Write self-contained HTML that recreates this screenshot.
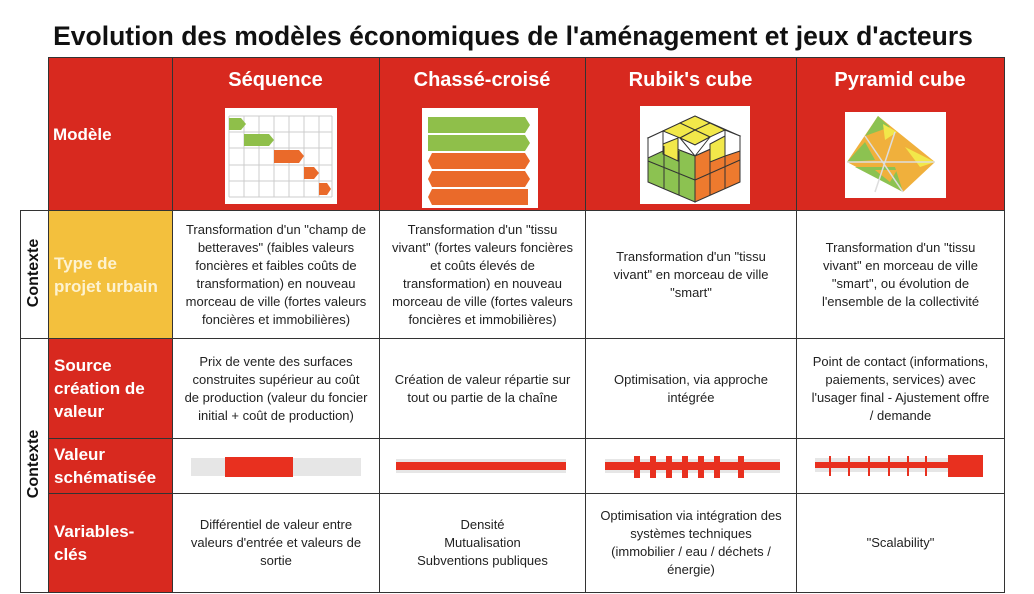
<!DOCTYPE html>
<html><head><meta charset="utf-8"><style>
*{margin:0;padding:0;box-sizing:border-box}
body{width:1034px;height:594px;background:#fff;position:relative;overflow:hidden;font-family:"Liberation Sans",Arial,sans-serif}
.a{position:absolute}
.t{position:absolute;top:21px;left:0;width:1026px;text-align:center;font-weight:bold;font-size:26.5px;color:#111}
.c{position:absolute;display:flex;align-items:center;justify-content:center;text-align:center;font-size:13px;line-height:18px;color:#222;border:1px solid #333;white-space:nowrap}
.r{background:#d8291f}
.lab{position:absolute;color:#fff;font-weight:bold;font-size:17px;line-height:23px;display:flex;align-items:center;padding-left:5px;border:1px solid #333}
.h{position:absolute;color:#fff;font-weight:bold;font-size:20px;text-align:center;top:69px}
.v{position:absolute;font-weight:bold;font-size:16px;transform:rotate(-90deg);transform-origin:center;white-space:nowrap;color:#111}
</style></head><body>
<div class="t">Evolution des modèles économiques de l'aménagement et jeux d'acteurs</div>
<div class="a r" style="left:48px;top:57px;width:957px;height:154px;border:1px solid #333"></div>
<div class="a" style="left:172px;top:57px;width:1px;height:154px;background:#333"></div>
<div class="a" style="left:379px;top:57px;width:1px;height:154px;background:#333"></div>
<div class="a" style="left:585px;top:57px;width:1px;height:154px;background:#333"></div>
<div class="a" style="left:796px;top:57px;width:1px;height:154px;background:#333"></div>
<div class="lab" style="left:48px;top:57px;width:125px;height:154px;border:none">Modèle</div>
<div class="h" style="left:172px;width:207px">Séquence</div>
<div class="h" style="left:379px;width:206px">Chassé-croisé</div>
<div class="h" style="left:585px;width:211px">Rubik's cube</div>
<div class="h" style="left:796px;width:208px">Pyramid cube</div>

<svg class="a" style="left:225px;top:108px" width="112" height="96">
<rect width="112" height="96" fill="#fff"/>
<g stroke="#ccc" stroke-width="1">
<line x1="4" y1="8" x2="107" y2="8"/><line x1="4" y1="24" x2="107" y2="24"/><line x1="4" y1="40" x2="107" y2="40"/><line x1="4" y1="57" x2="107" y2="57"/><line x1="4" y1="73" x2="107" y2="73"/><line x1="4" y1="89" x2="107" y2="89"/>
<line x1="4" y1="8" x2="4" y2="89"/><line x1="19" y1="8" x2="19" y2="89"/><line x1="34" y1="8" x2="34" y2="89"/><line x1="49" y1="8" x2="49" y2="89"/><line x1="64" y1="8" x2="64" y2="89"/><line x1="79" y1="8" x2="79" y2="89"/><line x1="94" y1="8" x2="94" y2="89"/><line x1="107" y1="8" x2="107" y2="89"/></g>
<polygon points="4,10 16,10 21,16 16,22 4,22" fill="#8fbf4a"/>
<polygon points="19,26 44,26 49,32 44,38 19,38" fill="#8fbf4a"/>
<polygon points="49,42 74,42 79,48 74,55 49,55" fill="#ea6a2a"/>
<polygon points="79,59 89,59 94,65 89,71 79,71" fill="#ea6a2a"/>
<polygon points="94,75 102,75 106,81 102,87 94,87" fill="#ea6a2a"/>
</svg>
<svg class="a" style="left:422px;top:108px" width="116" height="100">
<rect width="116" height="100" fill="#fff"/>
<polygon points="6,9 103,9 108,17 103,25 6,25" fill="#8fbf4a"/>
<polygon points="6,27 103,27 108,35 103,43 6,43" fill="#8fbf4a"/>
<polygon points="10,45 103,45 108,53 103,61 10,61 6,53" fill="#ea6a2a"/>
<polygon points="10,63 103,63 108,71 103,79 10,79 6,71" fill="#ea6a2a"/>
<polygon points="10,81 106,81 106,97 10,97 6,89" fill="#ea6a2a"/>
</svg>
<svg class="a" style="left:640px;top:106px" width="110" height="98">
<rect width="110" height="98" fill="#fff"/>
<polygon points="8,32 55,10 100,30 55,50" fill="#fff" stroke="#333"/>
<polygon points="40,17 55,10 70,17 55,24" fill="#f2e84a" stroke="#333"/>
<polygon points="23,25 40,17 55,24 40,32" fill="#f2e84a" stroke="#333"/>
<polygon points="55,24 70,17 85,24 70,31" fill="#f2e84a" stroke="#333"/>
<polygon points="40,32 55,24 70,31 55,39" fill="#f2e84a" stroke="#333"/>
<polygon points="8,32 55,50 55,96 8,76" fill="#8cc251" stroke="#333"/>
<polygon points="55,50 100,30 100,76 55,96" fill="#ee7a2e" stroke="#333"/>
<polygon points="8,32 23,25 23,45 8,52" fill="#fff" stroke="#333"/>
<polygon points="23,38 38,32 38,55 23,48" fill="#f2e84a" stroke="#333"/>
<polygon points="40,32 55,39 70,31 55,50" fill="#fff" stroke="#333"/>
<polygon points="70,38 85,30 85,50 70,56" fill="#f2e84a" stroke="#333"/>
<polygon points="85,24 100,30 100,45 85,50" fill="#fff" stroke="#333"/>
<line x1="8" y1="55" x2="55" y2="74" stroke="#333"/><line x1="55" y1="74" x2="100" y2="54" stroke="#333"/>
<line x1="24" y1="40" x2="24" y2="83" stroke="#333"/><line x1="39" y1="45" x2="39" y2="89" stroke="#333"/>
<line x1="70" y1="44" x2="70" y2="89" stroke="#333"/><line x1="85" y1="37" x2="85" y2="83" stroke="#333"/>
</svg>
<svg class="a" style="left:845px;top:112px" width="101" height="86">
<rect width="101" height="86" fill="#fff"/>
<polygon points="33,4 90,50 58,80 2,50" fill="#f0b03c"/>
<polygon points="33,4 45,15 20,24" fill="#8cc251"/>
<polygon points="20,30 2,50 30,48" fill="#8cc251"/>
<polygon points="10,55 58,80 50,55" fill="#8cc251"/>
<polygon points="30,58 52,58 45,70" fill="#f0b03c"/>
<polygon points="60,35 90,50 75,55" fill="#f2e84a"/>
<polygon points="38,12 52,20 40,28" fill="#f2e84a"/>
<g stroke="#ddd" stroke-width="1.5" fill="none"><line x1="2" y1="50" x2="90" y2="50"/><line x1="20" y1="24" x2="58" y2="80"/><line x1="50" y1="20" x2="30" y2="80"/></g>
</svg>

<div class="a" style="left:20px;top:210px;width:29px;height:129px;border:1px solid #333"></div>
<div class="a" style="left:20px;top:338px;width:29px;height:255px;border:1px solid #333"></div>
<div class="v" style="left:-6px;top:264px;width:80px;text-align:center">Contexte</div>
<div class="v" style="left:-6px;top:455px;width:80px;text-align:center">Contexte</div>

<div class="lab" style="left:48px;top:210px;width:125px;height:129px;background:#f3c03d;color:#fdf2d0">Type de<br>projet urbain</div>
<div class="lab r" style="left:48px;top:338px;width:125px;height:101px">Source<br>création de<br>valeur</div>
<div class="lab r" style="left:48px;top:438px;width:125px;height:56px">Valeur<br>schématisée</div>
<div class="lab r" style="left:48px;top:493px;width:125px;height:100px">Variables-<br>clés</div>

<div class="c" style="left:172px;top:210px;width:208px;height:129px">Transformation d'un "champ de<br>betteraves" (faibles valeurs<br>foncières et faibles coûts de<br>transformation) en nouveau<br>morceau de ville (fortes valeurs<br>foncières et immobilières)</div>
<div class="c" style="left:379px;top:210px;width:207px;height:129px">Transformation d'un "tissu<br>vivant" (fortes valeurs foncières<br>et coûts élevés de<br>transformation) en nouveau<br>morceau de ville (fortes valeurs<br>foncières et immobilières)</div>
<div class="c" style="left:585px;top:210px;width:212px;height:129px">Transformation d'un "tissu<br>vivant" en morceau de ville<br>"smart"</div>
<div class="c" style="left:796px;top:210px;width:209px;height:129px">Transformation d'un "tissu<br>vivant" en morceau de ville<br>"smart", ou évolution de<br>l'ensemble de la collectivité</div>

<div class="c" style="left:172px;top:338px;width:208px;height:101px">Prix de vente des surfaces<br>construites supérieur au coût<br>de production (valeur du foncier<br>initial + coût de production)</div>
<div class="c" style="left:379px;top:338px;width:207px;height:101px">Création de valeur répartie sur<br>tout ou partie de la chaîne</div>
<div class="c" style="left:585px;top:338px;width:212px;height:101px">Optimisation, via approche<br>intégrée</div>
<div class="c" style="left:796px;top:338px;width:209px;height:101px">Point de contact (informations,<br>paiements, services) avec<br>l'usager final - Ajustement offre<br>/ demande</div>

<div class="c" style="left:172px;top:438px;width:208px;height:56px"></div>
<div class="c" style="left:379px;top:438px;width:207px;height:56px"></div>
<div class="c" style="left:585px;top:438px;width:212px;height:56px"></div>
<div class="c" style="left:796px;top:438px;width:209px;height:56px"></div>
<div class="a" style="left:191px;top:458px;width:170px;height:18px;background:#e6e6e6"></div>
<div class="a" style="left:225px;top:457px;width:68px;height:20px;background:#e8301f"></div>
<div class="a" style="left:396px;top:459px;width:170px;height:14px;background:#e6e6e6"></div>
<div class="a" style="left:396px;top:462px;width:170px;height:8px;background:#e8301f"></div>
<div class="a" style="left:605px;top:459px;width:175px;height:14px;background:#e6e6e6"></div>
<div class="a" style="left:605px;top:462px;width:175px;height:8px;background:#e8301f"></div>
<svg class="a" style="left:600px;top:452px" width="190" height="30"><g fill="#e8301f">
<rect x="34" y="4" width="6" height="22"/><rect x="50" y="4" width="6" height="22"/><rect x="66" y="4" width="6" height="22"/><rect x="82" y="4" width="6" height="22"/><rect x="98" y="4" width="6" height="22"/><rect x="114" y="4" width="6" height="22"/><rect x="138" y="4" width="6" height="22"/></g></svg>
<div class="a" style="left:815px;top:458px;width:168px;height:14px;background:#e6e6e6"></div>
<div class="a" style="left:815px;top:462px;width:140px;height:6px;background:#e8301f"></div>
<svg class="a" style="left:815px;top:452px" width="170" height="30"><g fill="#e8301f">
<rect x="14" y="4" width="2" height="20"/><rect x="33" y="4" width="2" height="20"/><rect x="53" y="4" width="2" height="20"/><rect x="73" y="4" width="2" height="20"/><rect x="92" y="4" width="2" height="20"/><rect x="110" y="4" width="2" height="20"/><rect x="133" y="3" width="35" height="22"/></g></svg>

<div class="c" style="left:172px;top:493px;width:208px;height:100px">Différentiel de valeur entre<br>valeurs d'entrée et valeurs de<br>sortie</div>
<div class="c" style="left:379px;top:493px;width:207px;height:100px">Densité<br>Mutualisation<br>Subventions publiques</div>
<div class="c" style="left:585px;top:493px;width:212px;height:100px">Optimisation via intégration des<br>systèmes techniques<br>(immobilier / eau / déchets /<br>énergie)</div>
<div class="c" style="left:796px;top:493px;width:209px;height:100px">"Scalability"</div>
</body></html>
